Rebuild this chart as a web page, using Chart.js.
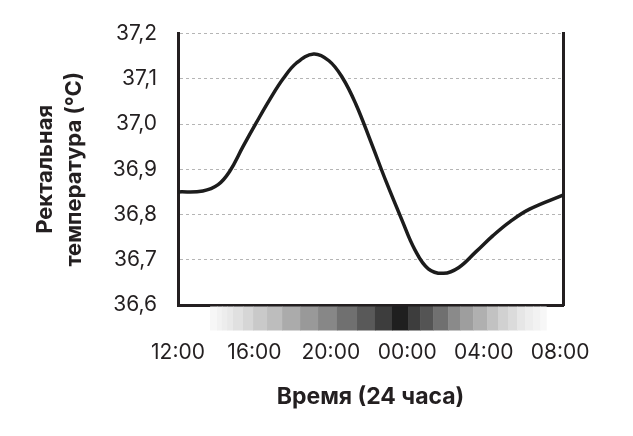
<!DOCTYPE html>
<html>
<head>
<meta charset="utf-8">
<script src="https://cdn.jsdelivr.net/npm/chart.js@4/dist/chart.umd.min.js"></script>
<style>
  html, body { margin: 0; padding: 0; background: #fff; }
  #wrap { width: 633px; height: 436px; }
</style>
</head>
<body>
<div id="wrap"><canvas id="tempChart"></canvas></div>
<script>
/* ============================================================
   RECTAL TEMPERATURE OVER 24 HOURS
   ============================================================ */

// hours after 12:00 and temperature in °C
const hours = [0, 1.3, 2.1, 2.7, 3.4, 4.1, 4.8, 5.5, 6.2, 7.1, 7.9, 8.6, 9.3, 10.1, 10.9, 11.7, 12.4, 13.1, 13.9, 14.7, 15.6, 16.5, 17.4, 18.4, 20.15];
const temps = [36.85, 36.852, 36.866, 36.895, 36.95, 37.003, 37.054, 37.1, 37.135, 37.155, 37.14, 37.103, 37.045, 36.96, 36.872, 36.79, 36.722, 36.68, 36.67, 36.683, 36.718, 36.754, 36.785, 36.812, 36.843];

const tickHours = [0, 4, 8, 12, 16, 20];
const tickLabels = ['12:00', '16:00', '20:00', '00:00', '04:00', '08:00'];

// night shading band: edges in hours and darkness (%) of each block
const bandEdges = [1.68, 2.04, 2.3, 2.57, 2.88, 3.4, 3.93, 4.66, 5.45, 6.39, 7.33, 8.32, 9.37, 10.31, 11.2, 12.04, 12.67, 13.35, 14.14, 14.76, 15.45, 16.18, 16.75, 17.28, 17.75, 18.17, 18.59, 18.95, 19.27];
const bandDarkness = [3, 5, 7, 9, 12, 16, 21, 26, 33, 40, 47, 56, 65, 76, 88, 76, 67, 56, 46, 38, 31, 24, 18, 14, 10, 7, 5, 3];

const INK = '#231f20';
const FONT = 'Inter, "DejaVu Sans", sans-serif';

const nightBand = {
  id: 'nightBand',
  afterDraw(chart) {
    const { ctx, chartArea, scales: { x } } = chart;
    const top = chartArea.bottom + 1.5;
    const h = 24;
    ctx.save();
    bandDarkness.forEach((d, i) => {
      const x0 = x.getPixelForValue(bandEdges[i]);
      const x1 = x.getPixelForValue(bandEdges[i + 1]);
      const g = Math.round(255 * (1 - d / 100));
      ctx.fillStyle = `rgb(${g},${g},${g})`;
      ctx.fillRect(x0, top, x1 - x0 + 0.5, h);
    });
    ctx.restore();
  }
};

new Chart(document.getElementById('tempChart').getContext('2d'), {
  type: 'line',
  data: {
    datasets: [{
      data: hours.map((h, i) => ({ x: h, y: temps[i] })),
      borderColor: '#1c1c1c',
      borderWidth: 3.5,
      pointRadius: 0,
      tension: 0.4,
      fill: false,
    }]
  },
  options: {
    responsive: true,
    maintainAspectRatio: false,
    animation: false,
    layout: { padding: { left: 10, right: 70, top: 29, bottom: 21 } },
    plugins: { legend: { display: false }, tooltip: { enabled: false } },
    scales: {
      x: {
        type: 'linear',
        min: 0,
        max: 20.15,
        afterBuildTicks: s => { s.ticks = tickHours.map(v => ({ value: v })); },
        afterFit: s => { s.height = 110; },
        grid: { display: false, drawTicks: false },
        border: { display: true, color: INK, width: 3 },
        ticks: {
          padding: 35,
          color: INK,
          font: { family: FONT, size: 21 },
          maxRotation: 0,
          autoSkip: false,
          callback: v => tickLabels[tickHours.indexOf(v)],
        },
        title: {
          display: true,
          text: 'Время (24 часа)',
          color: INK,
          font: { family: FONT, size: 23, weight: 'bold' },
          padding: { top: 20, bottom: 4 },
        },
      },
      y: {
        min: 36.6,
        max: 37.2,
        afterFit: s => { s.width = 168; },
        ticks: {
          stepSize: 0.1,
          padding: 21,
          color: INK,
          font: { family: FONT, size: 21 },
          callback: v => v.toFixed(1).replace('.', ','),
        },
        grid: { color: '#b5b5b5', lineWidth: 1, drawTicks: false },
        border: { display: true, color: INK, width: 3, dash: [3, 3] },
        title: {
          display: true,
          text: ['Ректальная', 'температура (°C)'],
          color: INK,
          font: { family: FONT, size: 22, weight: 'bold', lineHeight: 1.32 },
          padding: { top: 20.5, bottom: 10 },
        },
      },
      y2: {
        position: 'right',
        afterFit: s => { s.width = 0; },
        ticks: { display: false },
        grid: { display: false, drawTicks: false },
        border: { display: true, color: INK, width: 3 },
      },
    }
  },
  plugins: [nightBand]
});
</script>
</body>
</html>
